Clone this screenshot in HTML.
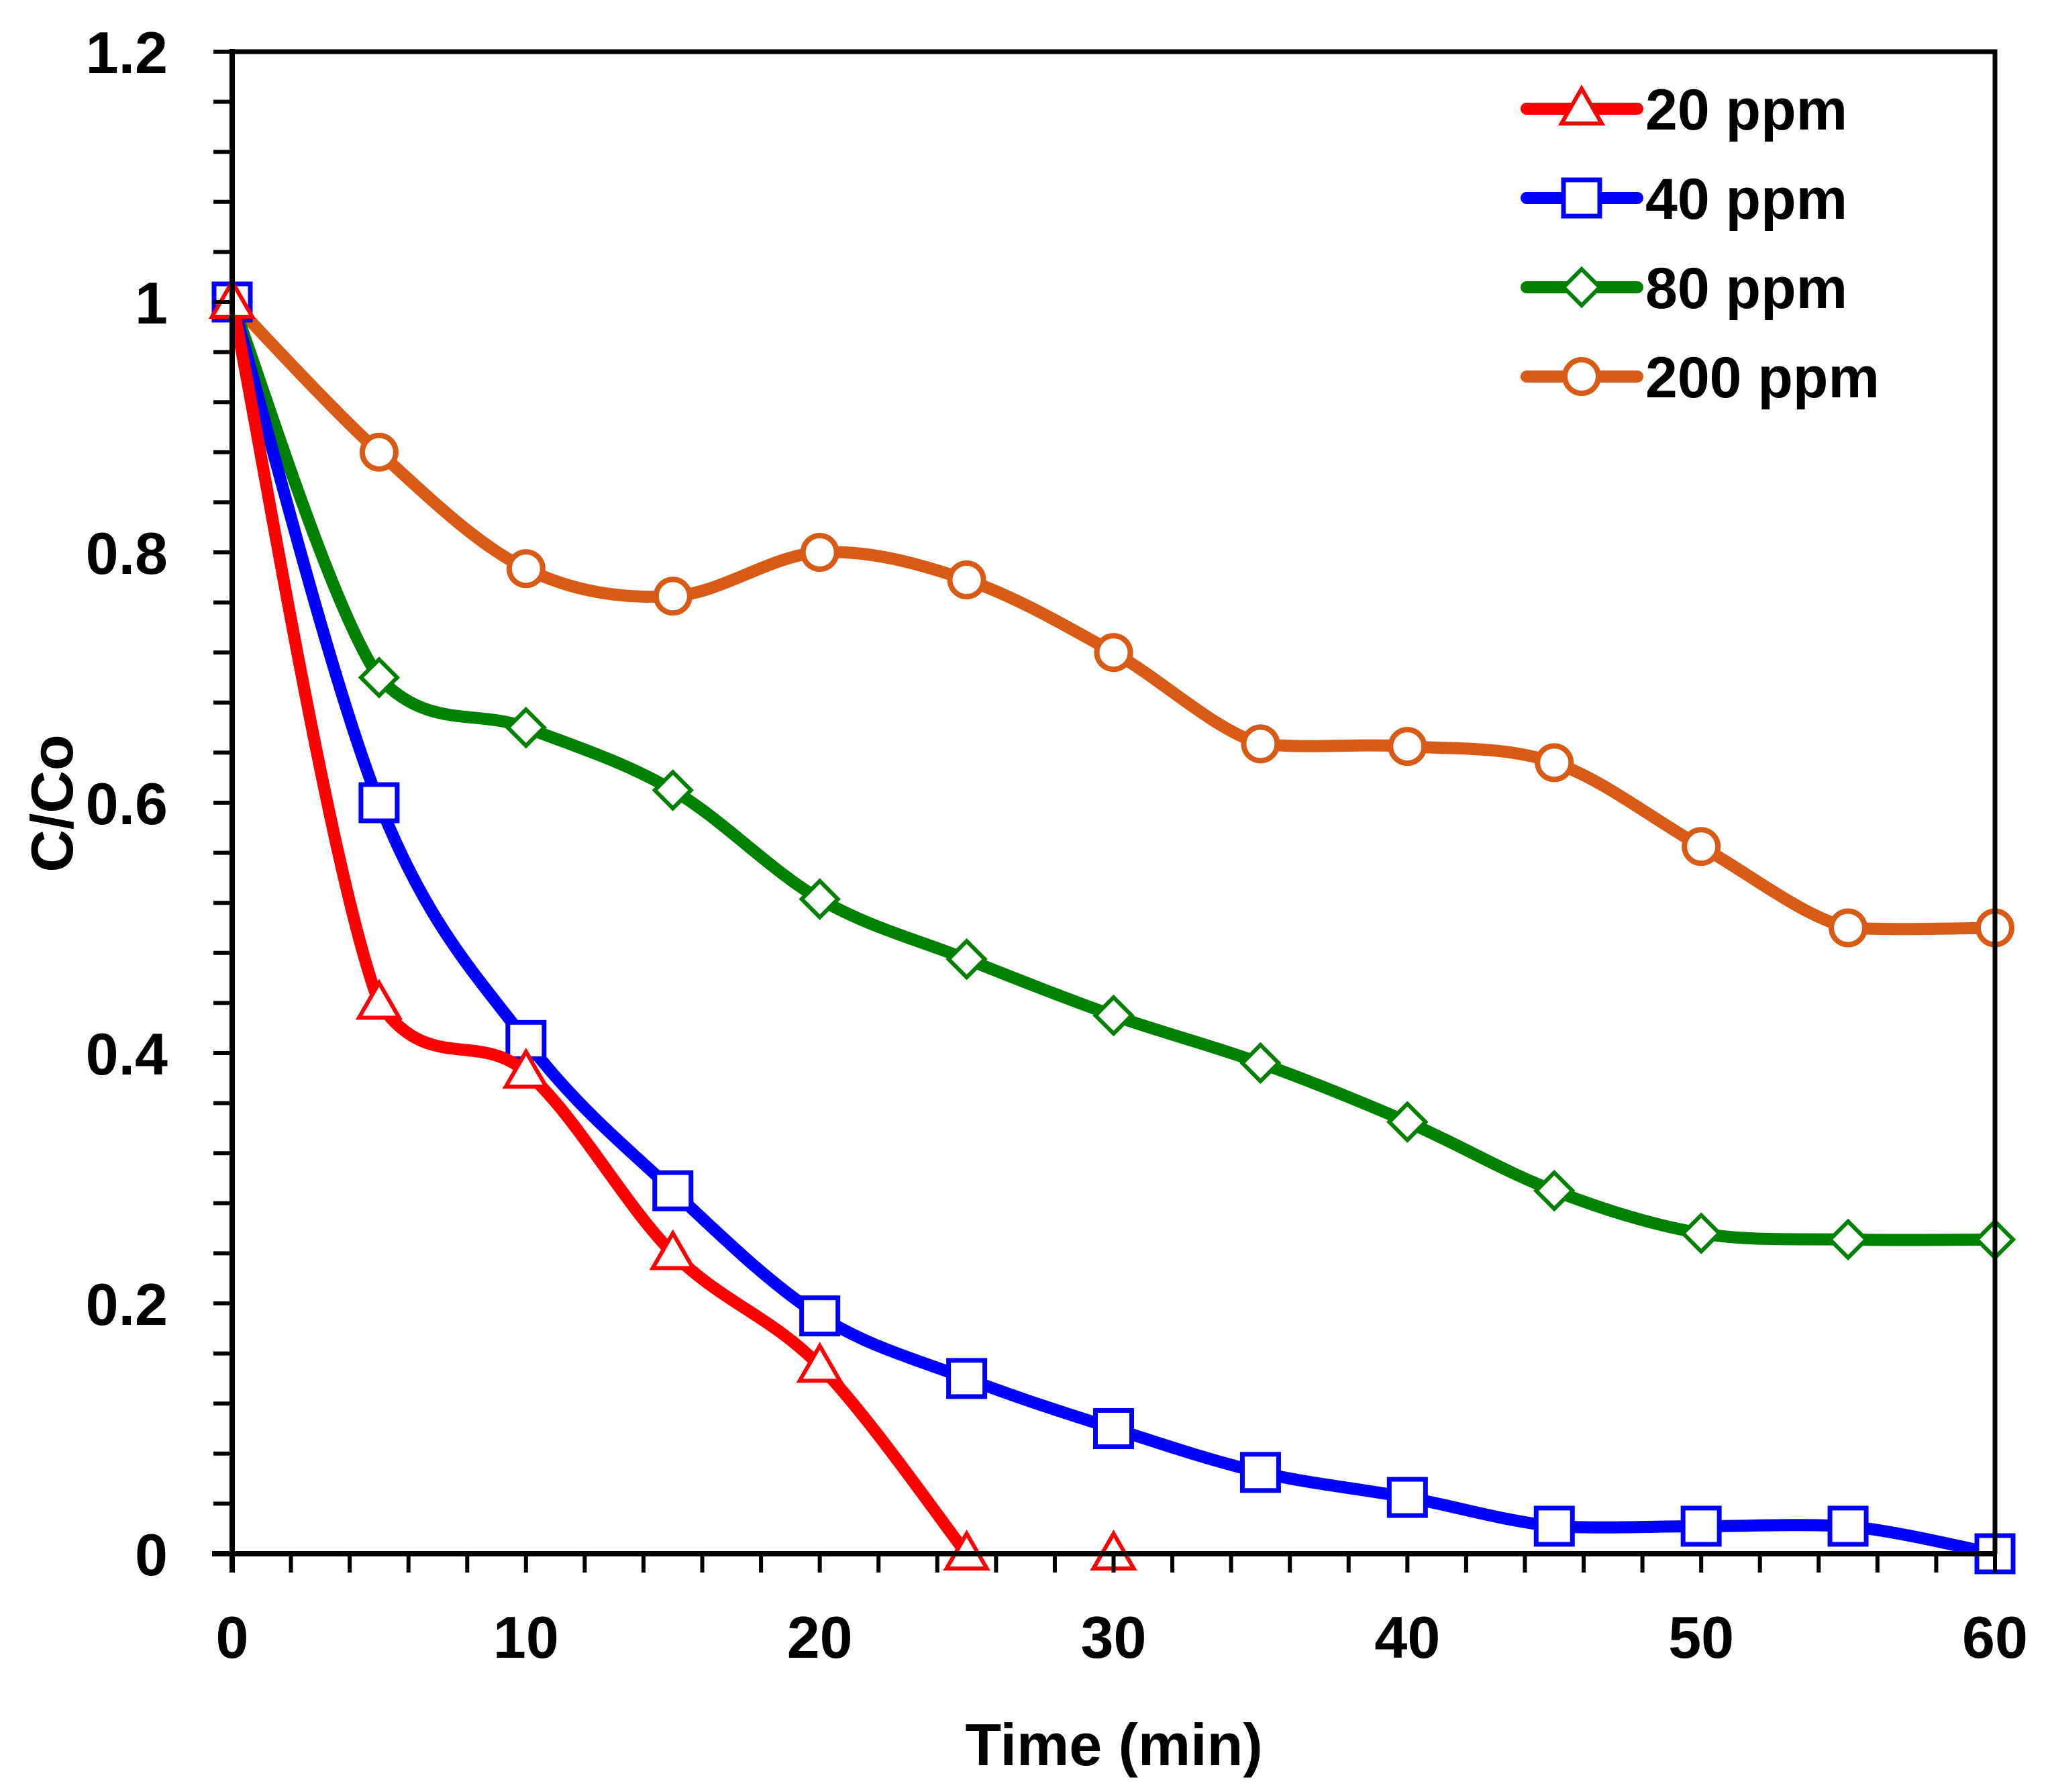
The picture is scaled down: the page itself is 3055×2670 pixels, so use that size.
<!DOCTYPE html>
<html><head><meta charset="utf-8">
<style>
html,body{margin:0;padding:0;background:#fff;}
svg{display:block;}
text{font-family:"Liberation Sans",Arial,sans-serif;font-weight:bold;fill:#000;}
</style></head>
<body>
<svg id="chart" width="3055" height="2670" viewBox="0 0 3055 2670" xmlns="http://www.w3.org/2000/svg">
<g id="grid"></g>
<g id="series"></g>
<g id="axes"></g>
<g id="legend"></g>
</svg>
<script>
const times = [0,5,10,15,20,25,30,35,40,45,50,55,60];
const s20 = [1,0.44,0.385,0.24,0.15,0,0];
const s40 = [1,0.60,0.41,0.29,0.19,0.14,0.10,0.065,0.045,0.022,0.022,0.022,0];
const s80 = [1,0.70,0.66,0.61,0.523,0.475,0.43,0.392,0.345,0.29,0.256,0.251,0.251];
const s200 = [1,0.88,0.787,0.765,0.80,0.778,0.72,0.647,0.645,0.632,0.565,0.50,0.50];
const seriesNames = ["20 ppm","40 ppm","80 ppm","200 ppm"];
const xTicks = [0,10,20,30,40,50,60];
const yTicks = [0,0.2,0.4,0.6,0.8,1,1.2];
const yTickLabels = ["0","0.2","0.4","0.6","0.8","1","1.2"];

const NS="http://www.w3.org/2000/svg";
const L=346,R=2973,T=77,B=2315;
const X=v=>L+(v-0)/(60-0)*(R-L);
const Y=v=>B-(v-0)/(1.2-0)*(B-T);
function mk(tag,attrs,parent){const e=document.createElementNS(NS,tag);for(const k in attrs)e.setAttribute(k,attrs[k]);parent.appendChild(e);return e;}
const axes=document.getElementById('axes'),ser=document.getElementById('series'),leg=document.getElementById('legend');

let fr=mk('path',{d:`M${L} ${T} H${R} V${B}`,fill:'none',stroke:'#000','stroke-width':7},axes);


let ya=mk('line',{x1:L,y1:T-4,x2:L,y2:B+28,stroke:'#000','stroke-width':8},axes);


let xa=mk('line',{x1:L-30,y1:B,x2:R,y2:B,stroke:'#000','stroke-width':8},axes);


for(let t=0;t<=60;t+=2){let tk=mk('line',{x1:X(t),y1:B,x2:X(t),y2:B+28,stroke:'#000','stroke-width':6},axes);

}
for(let i=0;i<=30;i++){const v=i*0.04;let tk=mk('line',{x1:L-28,y1:Y(v),x2:L,y2:Y(v),stroke:'#000','stroke-width':6},axes);

}
xTicks.forEach(t=>{let tx=mk('text',{x:X(t),y:2470,'text-anchor':'middle','font-size':88},axes);tx.textContent=String(t);

});
yTicks.forEach((v,i)=>{let tx=mk('text',{x:250,y:Y(v)+32,'text-anchor':'end','font-size':88},axes);tx.textContent=yTickLabels[i];

});
let xt=mk('text',{x:1660,y:2630,'text-anchor':'middle','font-size':88},axes);xt.textContent="Time (min)";


let yt=mk('text',{x:0,y:0,'text-anchor':'middle','font-size':88,transform:'translate(108,1197) rotate(-90)'},axes);yt.textContent="C/Co";



function clampY(c,a,b){const lo=Math.min(a,b)-4,hi=Math.max(a,b)+4;return Math.max(lo,Math.min(hi,c));}
function smooth(pts){
  if(pts.length<2)return '';
  let d=`M${pts[0][0]} ${pts[0][1]}`;
  for(let i=0;i<pts.length-1;i++){
    const p0=pts[i-1]||pts[i],p1=pts[i],p2=pts[i+1],p3=pts[i+2]||p2;
    const c1=[p1[0]+(p2[0]-p0[0])/6,clampY(p1[1]+(p2[1]-p0[1])/6,p1[1],p2[1])];
    const c2=[p2[0]-(p3[0]-p1[0])/6,clampY(p2[1]-(p3[1]-p1[1])/6,p1[1],p2[1])];
    d+=` C${c1[0]} ${c1[1]} ${c2[0]} ${c2[1]} ${p2[0]} ${p2[1]}`;
  }
  return d;
}
function marker(type,x,y,color,parent){
  let e;
  if(type==='tri')e=mk('path',{d:`M${x} ${y-30} L${x+30} ${y+22} L${x-30} ${y+22} Z`,fill:'#fff',stroke:color,'stroke-width':6,'stroke-linejoin':'miter'},parent);
  else if(type==='sq')e=mk('rect',{x:x-27,y:y-27,width:54,height:54,fill:'#fff',stroke:color,'stroke-width':7},parent);
  else if(type==='dia')e=mk('path',{d:`M${x} ${y-27} L${x+27} ${y} L${x} ${y+27} L${x-27} ${y} Z`,fill:'#fff',stroke:color,'stroke-width':6},parent);
  else e=mk('circle',{cx:x,cy:y,r:25,fill:'#fff',stroke:color,'stroke-width':8},parent);
  return e;
}
const defs=[[s200,'#d85a14','circ'],[s80,'#008000','dia'],[s40,'#0000ff','sq'],[s20,'#ff0000','tri']];
const labels=['200ppm','80ppm','40ppm','20ppm'];
defs.forEach((d,si)=>{
  const vals=d[0];
  let pts=vals.map((v,i)=>[X(times[i]),Y(v)]);
  let z=vals.indexOf(0);
  let linePts=z>=0?pts.slice(0,z+1):pts;
  let p=mk('path',{d:smooth(linePts),fill:'none',stroke:d[1],'stroke-width':18,'stroke-linejoin':'round','stroke-linecap':'round'},ser);
  
  
  pts.forEach(q=>{let m=marker(d[2],q[0],q[1],d[1],ser);
    
    });
});
const legDefs=[['#ff0000','tri'],['#0000ff','sq'],['#008000','dia'],['#d85a14','circ']];
legDefs.forEach((d,i)=>{
  const y=162+i*133;
  let ln=mk('line',{x1:2275,y1:y,x2:2440,y2:y,stroke:d[0],'stroke-width':18,'stroke-linecap':'round'},leg);
  
  
  let m=marker(d[1],2357,y,d[0],leg);
  
  
  let tx=mk('text',{x:2452,y:y+31,'font-size':86},leg);tx.textContent=seriesNames[i];
  
  
});
</script>
</body></html>
